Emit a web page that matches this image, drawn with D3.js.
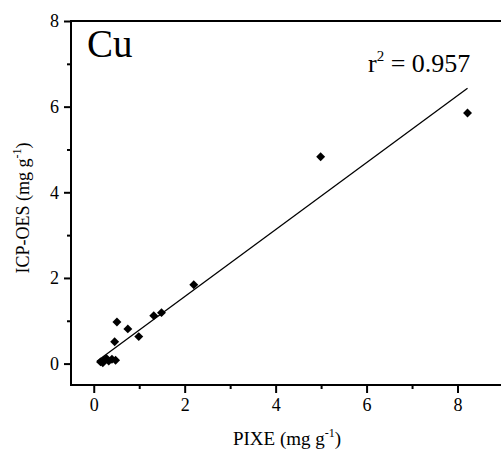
<!DOCTYPE html>
<html>
<head>
<meta charset="utf-8">
<script src="https://cdn.jsdelivr.net/npm/d3@7"></script>
<style>
  body { margin: 0; background: #fff; }
  text { font-family: "Liberation Serif", "Times New Roman", serif; fill: #000; }
</style>
</head>
<body>
<div id="chart"></div>
<script>
// PIXE vs ICP-OES, Cu (mg g-1)
const pixe = [0.15, 0.2, 0.22, 0.28, 0.33, 0.4, 0.48, 0.46, 0.51, 0.75, 0.99, 1.32, 1.49, 2.2, 4.99, 8.22];
const icp  = [0.04, 0.02, 0.08, 0.12, 0.06, 0.1, 0.08, 0.51, 0.97, 0.81, 0.63, 1.12, 1.19, 1.84, 4.83, 5.85];

const xTicks = [0, 2, 4, 6, 8];
const yTicks = [0, 2, 4, 6, 8];
const minorTicks = [1, 3, 5, 7];

// fitted line
const fitSlope = 0.782;
const fitIntercept = 0.0;
const fitRange = [0.07, 8.22];
const r2Label = "0.957";

const W = 501, H = 450;
// right side of the frame runs off the picture
const margin = { top: 21, right: -12, bottom: 65, left: 71 };
const width = W - margin.left - margin.right;
const height = H - margin.top - margin.bottom;

const svg = d3.select("#chart")
    .append("svg")
    .attr("width", W)
    .attr("height", H)
    .style("display", "block");

const g = svg.append("g")
    .attr("transform", `translate(${margin.left}, ${margin.top})`);

const x = d3.scaleLinear()
    .domain([-0.5, 9.22])
    .range([0, width]);

const y = d3.scaleLinear()
    .domain([-0.5, 8])
    .range([height, 0]);

// frame
g.append("rect")
    .attr("width", width)
    .attr("height", height)
    .attr("fill", "none")
    .attr("stroke", "#000")
    .attr("stroke-width", 2);

// bottom axis
g.append("g")
    .attr("transform", `translate(0, ${height})`)
    .call(d3.axisBottom(x).tickValues(xTicks).tickSize(8).tickSizeOuter(0).tickPadding(5));
g.append("g")
    .attr("transform", `translate(0, ${height})`)
    .call(d3.axisBottom(x).tickValues(minorTicks).tickSize(4).tickSizeOuter(0).tickFormat(""));

// left axis
g.append("g")
    .call(d3.axisLeft(y).tickValues(yTicks).tickSize(7).tickSizeOuter(0).tickPadding(5));
g.append("g")
    .call(d3.axisLeft(y).tickValues(minorTicks).tickSize(4).tickSizeOuter(0).tickFormat(""));

g.selectAll(".domain").remove();
g.selectAll(".tick line").attr("stroke", "#000").attr("stroke-width", 2);
g.selectAll(".tick text")
    .attr("font-size", 18)
    .attr("fill", "#000");

// fit line
g.append("line")
    .attr("x1", x(fitRange[0]))
    .attr("y1", y(fitIntercept + fitSlope * fitRange[0]))
    .attr("x2", x(fitRange[1]))
    .attr("y2", y(fitIntercept + fitSlope * fitRange[1]))
    .attr("stroke", "#000")
    .attr("stroke-width", 1.3);

// points (diamonds)
const diamond = d3.symbol().type(d3.symbolSquare).size(40);
g.selectAll(".pt")
    .data(pixe.map((v, i) => [v, icp[i]]))
    .enter()
    .append("path")
    .attr("class", "pt")
    .attr("d", diamond)
    .attr("transform", d => `translate(${x(d[0])}, ${y(d[1])}) rotate(45)`)
    .attr("fill", "#000");

// element label
g.append("text")
    .attr("x", 16)
    .attr("y", 36)
    .attr("font-size", 39)
    .text("Cu");

// r2 label
const r2 = g.append("text")
    .attr("x", 297)
    .attr("y", 51)
    .attr("font-size", 26);
r2.append("tspan").text("r");
r2.append("tspan").attr("dy", -11).attr("font-size", 15).text("2");
r2.append("tspan").attr("dy", 11).text(" = " + r2Label);

// axis titles
const xt = svg.append("text")
    .attr("x", 287)
    .attr("y", 445)
    .attr("text-anchor", "middle")
    .attr("font-size", 19);
xt.append("tspan").text("PIXE (mg g");
xt.append("tspan").attr("dy", -8).attr("font-size", 12).text("-1");
xt.append("tspan").attr("dy", 8).text(")");

const yt = svg.append("text")
    .attr("transform", `translate(29, 208) rotate(-90)`)
    .attr("text-anchor", "middle")
    .attr("font-size", 18);
yt.append("tspan").text("ICP-OES (mg g");
yt.append("tspan").attr("dy", -8).attr("font-size", 12).text("-1");
yt.append("tspan").attr("dy", 8).text(")");
</script>
</body>
</html>
